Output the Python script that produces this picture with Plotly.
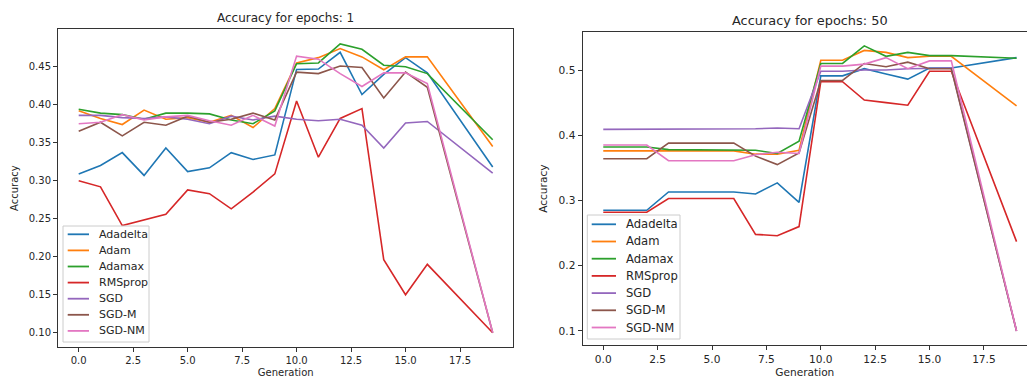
import plotly.graph_objects as go

generations = [0, 1, 2, 3, 4, 5, 6, 7, 8, 9, 10, 11, 12, 13, 14, 15, 16, 19]
optimizers = ["Adadelta", "Adam", "Adamax", "RMSprop", "SGD", "SGD-M", "SGD-NM"]
colors = ["#1f77b4", "#ff7f0e", "#2ca02c", "#d62728", "#9467bd", "#8c564b", "#e377c2"]

# Accuracy for epochs: 1
e1_adadelta = [0.309, 0.320, 0.337, 0.307, 0.343, 0.312, 0.317, 0.337, 0.328, 0.334, 0.4465, 0.447, 0.469, 0.4135, 0.440, 0.462, 0.442, 0.318]
e1_adam     = [0.392, 0.382, 0.374, 0.393, 0.381, 0.383, 0.377, 0.386, 0.370, 0.395, 0.455, 0.462, 0.474, 0.463, 0.446, 0.463, 0.463, 0.345]
e1_adamax   = [0.394, 0.389, 0.387, 0.381, 0.389, 0.389, 0.388, 0.380, 0.375, 0.392, 0.454, 0.455, 0.480, 0.473, 0.452, 0.450, 0.441, 0.354]
e1_rmsprop  = [0.300, 0.292, 0.241, 0.249, 0.256, 0.288, 0.283, 0.263, 0.285, 0.309, 0.405, 0.331, 0.382, 0.395, 0.196, 0.150, 0.190, 0.100]
e1_sgd      = [0.386, 0.386, 0.383, 0.382, 0.384, 0.381, 0.375, 0.385, 0.380, 0.385, 0.381, 0.379, 0.381, 0.373, 0.343, 0.376, 0.378, 0.310]
e1_sgdm     = [0.365, 0.377, 0.359, 0.377, 0.373, 0.385, 0.377, 0.381, 0.389, 0.380, 0.443, 0.441, 0.451, 0.449, 0.409, 0.443, 0.423, 0.100]
e1_sgdnm    = [0.375, 0.377, 0.387, 0.380, 0.384, 0.386, 0.379, 0.373, 0.386, 0.372, 0.464, 0.460, 0.441, 0.424, 0.442, 0.442, 0.428, 0.100]

# Accuracy for epochs: 50
e50_adadelta = [0.285, 0.285, 0.285, 0.313, 0.313, 0.313, 0.313, 0.310, 0.327, 0.297, 0.491, 0.491, 0.502, 0.494, 0.486, 0.503, 0.503, 0.519]
e50_adam     = [0.376, 0.376, 0.376, 0.376, 0.376, 0.376, 0.376, 0.371, 0.371, 0.377, 0.515, 0.515, 0.530, 0.527, 0.519, 0.521, 0.521, 0.445]
e50_adamax   = [0.382, 0.382, 0.382, 0.378, 0.378, 0.378, 0.378, 0.377, 0.372, 0.391, 0.510, 0.510, 0.537, 0.521, 0.527, 0.522, 0.522, 0.518]
e50_rmsprop  = [0.282, 0.282, 0.282, 0.303, 0.303, 0.303, 0.303, 0.248, 0.246, 0.260, 0.482, 0.482, 0.454, 0.450, 0.446, 0.498, 0.498, 0.237]
e50_sgd      = [0.409, 0.409, 0.409, 0.410, 0.410, 0.410, 0.410, 0.410, 0.411, 0.410, 0.498, 0.498, 0.500, 0.500, 0.502, 0.503, 0.503, 0.100]
e50_sgdm     = [0.364, 0.364, 0.364, 0.388, 0.388, 0.388, 0.388, 0.368, 0.355, 0.373, 0.484, 0.484, 0.510, 0.505, 0.512, 0.502, 0.502, 0.100]
e50_sgdnm    = [0.385, 0.385, 0.385, 0.361, 0.361, 0.361, 0.361, 0.370, 0.374, 0.372, 0.506, 0.506, 0.509, 0.519, 0.502, 0.514, 0.514, 0.100]

epochs1 = [e1_adadelta, e1_adam, e1_adamax, e1_rmsprop, e1_sgd, e1_sgdm, e1_sgdnm]
epochs50 = [e50_adadelta, e50_adam, e50_adamax, e50_rmsprop, e50_sgd, e50_sgdm, e50_sgdnm]

x_ticks = [0, 2.5, 5, 7.5, 10, 12.5, 15, 17.5]
y1_ticks = [0.10, 0.15, 0.20, 0.25, 0.30, 0.35, 0.40, 0.45]
y2_ticks = [0.1, 0.2, 0.3, 0.4, 0.5]

W, H = 1027, 378
FONT = "DejaVu Sans"
TXT = "#262626"

fig = go.Figure()
for name, col, ys in zip(optimizers, colors, epochs1):
    fig.add_trace(go.Scatter(x=generations, y=ys, mode="lines", name=name,
                             line=dict(color=col, width=1.6), showlegend=False,
                             xaxis="x", yaxis="y"))
for name, col, ys in zip(optimizers, colors, epochs50):
    fig.add_trace(go.Scatter(x=generations, y=ys, mode="lines", name=name,
                             line=dict(color=col, width=1.6), showlegend=False,
                             xaxis="x2", yaxis="y2"))


def axis_common(fs):
    return dict(showgrid=False, zeroline=False, showline=True, linecolor="#333333",
                linewidth=1, ticks="outside", ticklen=4, tickcolor="#333333",
                tickfont=dict(size=fs, color=TXT, family=FONT))


def px(x):
    return x / W


def py(y):
    return 1 - y / H


shapes = []
annotations = [
    dict(text="Accuracy for epochs: 1", x=px((58.0 + 513.4) / 2), y=py(18.3),
         xref="paper", yref="paper", showarrow=False, xanchor="center", yanchor="middle",
         font=dict(size=12, color=TXT, family=FONT)),
    dict(text="Accuracy for epochs: 50", x=px(809.6), y=py(20.7),
         xref="paper", yref="paper", showarrow=False, xanchor="center", yanchor="middle",
         font=dict(size=12.9, color=TXT, family=FONT)),
]


def add_legend(box, first_y, step, line_x0, line_x1, text_x, fsize):
    x0, y0, x1, y1 = box
    shapes.append(dict(type="rect", xref="paper", yref="paper",
                       x0=px(x0), x1=px(x1), y0=py(y1), y1=py(y0),
                       line=dict(color="#cccccc", width=1),
                       fillcolor="rgba(255,255,255,0.8)", layer="above"))
    for i, (name, col) in enumerate(zip(optimizers, colors)):
        yy = first_y + i * step
        shapes.append(dict(type="line", xref="paper", yref="paper",
                           x0=px(line_x0), x1=px(line_x1), y0=py(yy), y1=py(yy),
                           line=dict(color=col, width=1.8), layer="above"))
        annotations.append(dict(text=name, x=px(text_x), y=py(yy), xref="paper", yref="paper",
                                showarrow=False, xanchor="left", yanchor="middle",
                                font=dict(size=fsize, color=TXT, family=FONT)))


add_legend((63, 226, 149, 342), 234.3, 16.1, 67.7, 89, 96.5, 11)
add_legend((587.3, 215, 680, 339), 224.3, 17.2, 591.7, 616, 624, 11.6)

fig.update_layout(
    width=W, height=H, autosize=False,
    margin=dict(l=0, r=0, t=0, b=0),
    paper_bgcolor="white", plot_bgcolor="white",
    font=dict(family=FONT, size=10, color=TXT),
    showlegend=False,
    xaxis=dict(domain=[px(58.0), px(513.4)], range=[-0.95, 19.95], anchor="y",
               tickvals=x_ticks, tickformat=".1f", mirror=True,
               title=dict(text="Generation", font=dict(size=10), standoff=6), **axis_common(10)),
    yaxis=dict(domain=[py(347.0), py(29.3)], range=[0.0812, 0.4993], anchor="x",
               tickvals=y1_ticks, tickformat=".2f", mirror=True,
               title=dict(text="Accuracy", font=dict(size=10), standoff=8), **axis_common(10)),
    xaxis2=dict(domain=[px(582.6), 1.0], range=[-0.95, 19.48], anchor="y2",
                tickvals=x_ticks, tickformat=".1f", mirror=True,
                title=dict(text="Generation", font=dict(size=10.6), standoff=5), **axis_common(10.6)),
    yaxis2=dict(domain=[py(345.0), py(32.3)], range=[0.0785, 0.5578], anchor="x2",
                tickvals=y2_ticks, tickformat=".1f", mirror=False,
                title=dict(text="Accuracy", font=dict(size=10.6), standoff=8), **axis_common(10.6)),
    shapes=shapes,
    annotations=annotations,
)

fig.write_html("out.html")
